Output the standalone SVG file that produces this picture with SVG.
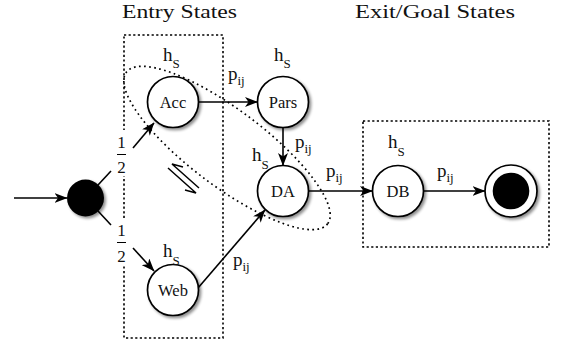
<svg xmlns="http://www.w3.org/2000/svg" width="561" height="346" viewBox="0 0 561 346" font-family="'Liberation Serif', 'DejaVu Serif', serif">
<style>
text{font-family:'Liberation Serif','DejaVu Serif',serif;fill:#111}
.title{font-size:19px}
.lbl{font-size:16.5px;text-anchor:middle}
.m{font-size:19px}
.sub{font-size:13px}
.frac{font-size:17px;text-anchor:middle}
.node{fill:#fff;stroke:#000;stroke-width:1.7;filter:url(#sh)}
.edge{fill:none;stroke:#000;stroke-width:1.6;marker-end:url(#ah)}
.line{fill:none;stroke:#000;stroke-width:1.6}
.box{fill:none;stroke:#000;stroke-width:1.6;stroke-dasharray:2.2 2.4}
.dots{fill:none;stroke:#000;stroke-width:1.7;stroke-dasharray:1.7 3.4}
</style>
<defs>
<marker id="ah" markerUnits="userSpaceOnUse" viewBox="0 0 13 10" refX="12.5" refY="5" markerWidth="13" markerHeight="10" orient="auto">
<path d="M0,0 L13,5 L0,10 L3.5,5 z" fill="#000"/>
</marker>
<filter id="sh" x="-30%" y="-30%" width="170%" height="170%">
<feGaussianBlur in="SourceAlpha" stdDeviation="1.6"/>
<feOffset dx="2" dy="2" result="b"/>
<feComponentTransfer><feFuncA type="linear" slope="0.45"/></feComponentTransfer>
<feMerge><feMergeNode/><feMergeNode in="SourceGraphic"/></feMerge>
</filter>
</defs>

<g id="titles">
<text class="title" x="122" y="18" textLength="115" lengthAdjust="spacingAndGlyphs">Entry States</text>
<text class="title" x="355" y="18" textLength="160" lengthAdjust="spacingAndGlyphs">Exit/Goal States</text>
</g>

<g id="entry-box"><rect class="box" x="124" y="35" width="99" height="303"/></g>
<g id="exit-box"><rect class="box" x="363" y="121" width="186" height="126"/></g>

<g id="group-ellipse">
<ellipse class="dots" cx="227" cy="148" rx="126" ry="38" transform="rotate(37 227 148)"/>
</g>

<g id="connectors">
<line class="edge" x1="14" y1="198" x2="67" y2="198"/>
<polyline class="line" points="98,185 111,171"/>
<line class="edge" x1="133" y1="148" x2="154" y2="123"/>
<polyline class="line" points="98,211 111,225"/>
<line class="edge" x1="133" y1="248" x2="154" y2="271"/>
<line class="edge" x1="198.5" y1="102" x2="257.5" y2="102"/>
<line class="edge" x1="283" y1="127.5" x2="283" y2="165.5"/>
<line class="edge" x1="308.5" y1="191" x2="372.5" y2="191"/>
<line class="edge" x1="424" y1="191" x2="485" y2="191"/>
<line class="edge" x1="198" y1="288" x2="265" y2="210"/>
</g>

<g id="symbol-harpoons" fill="none" stroke="#000" stroke-width="1.5">
<path d="M183,167 L172,164 L199,188"/>
<path d="M168,168 L196,193 L185,190"/>
</g>

<g id="start"><circle cx="85.5" cy="198" r="18.5" fill="#000" filter="url(#sh)"/></g>

<g id="Acc"><circle class="node" cx="173" cy="102" r="25.5"/><text class="lbl" x="173" y="107.5">Acc</text></g>
<g id="Pars"><circle class="node" cx="283" cy="102" r="25.5"/><text class="lbl" x="283" y="107.5">Pars</text></g>
<g id="DA"><circle class="node" cx="283" cy="191" r="25.5"/><text class="lbl" x="283" y="196.5">DA</text></g>
<g id="Web"><circle class="node" cx="173" cy="290" r="25.5"/><text class="lbl" x="173" y="295.5">Web</text></g>
<g id="DB"><circle class="node" cx="398" cy="191" r="25.5"/><text class="lbl" x="398" y="196.5">DB</text></g>
<g id="final"><circle class="node" cx="511" cy="191" r="26"/><circle cx="511" cy="191" r="18.3" fill="#000"/></g>

<g id="labels">
<text class="m" x="163" y="60.5">h<tspan class="sub" dy="7.5">S</tspan></text>
<text class="m" x="274" y="60.5">h<tspan class="sub" dy="7.5">S</tspan></text>
<text class="m" x="252" y="161">h<tspan class="sub" dy="7.5">S</tspan></text>
<text class="m" x="388" y="148">h<tspan class="sub" dy="7.5">S</tspan></text>
<text class="m" x="163" y="257">h<tspan class="sub" dy="7.5">S</tspan></text>

<text class="m" x="228" y="80">p<tspan class="sub" dy="5">ij</tspan></text>
<text class="m" x="295" y="148">p<tspan class="sub" dy="5">ij</tspan></text>
<text class="m" x="326" y="177">p<tspan class="sub" dy="5">ij</tspan></text>
<text class="m" x="437" y="177">p<tspan class="sub" dy="5">ij</tspan></text>
<text class="m" x="233" y="266">p<tspan class="sub" dy="5">ij</tspan></text>

<rect x="115" y="130" width="13" height="46" fill="#fff"/>
<text class="frac" x="121.5" y="148">1</text>
<line x1="117" y1="154.5" x2="126" y2="154.5" stroke="#000" stroke-width="1"/>
<text class="frac" x="121.5" y="173">2</text>
<rect x="115" y="218" width="13" height="47" fill="#fff"/>
<text class="frac" x="121.5" y="236">1</text>
<line x1="117" y1="242.5" x2="126" y2="242.5" stroke="#000" stroke-width="1"/>
<text class="frac" x="121.5" y="262">2</text>
</g>
</svg>
